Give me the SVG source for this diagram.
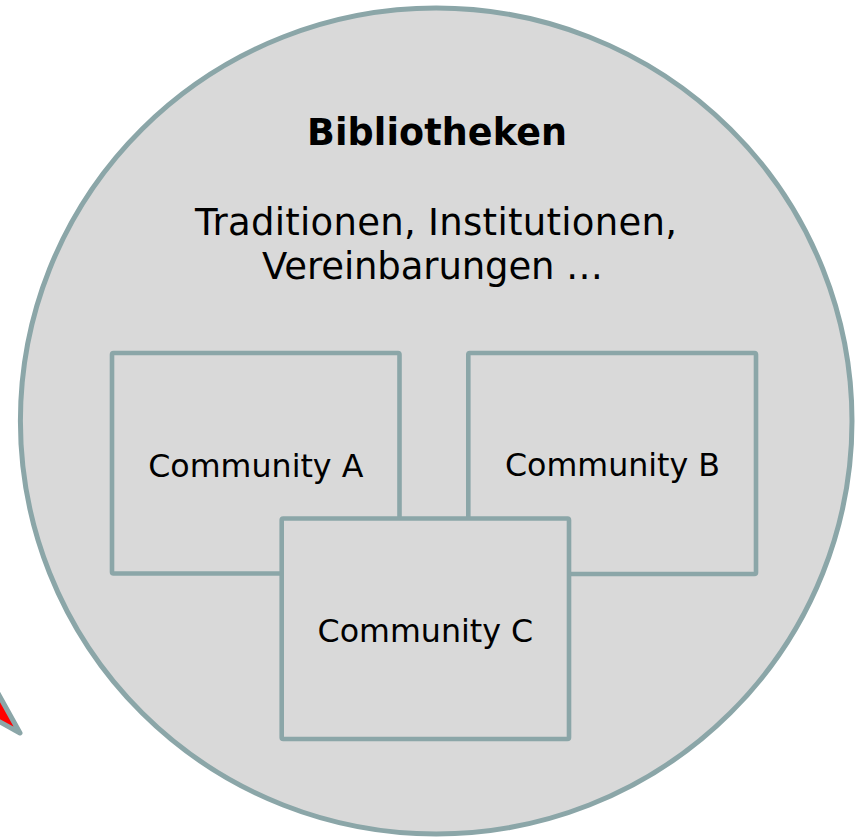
<svg xmlns="http://www.w3.org/2000/svg" width="857" height="837" viewBox="0 0 857 837">
  <style>
    .outline { stroke: #8BA6A8; stroke-width: 5; stroke-linejoin: round; }
    .box { fill: #D9D9D9; stroke: #8BA6A8; stroke-width: 4.6; stroke-linejoin: round; }
    .t { font-family: "DejaVu Sans", Verdana, sans-serif; fill: #000; text-anchor: middle; }
    .title { font-size: 36.5px; font-weight: bold; }
    .sub { font-size: 37px; }
    .lbl { font-size: 31.7px; }
  </style>
  <rect width="857" height="837" fill="#FFFFFF"/>
  <g id="pointer">
    <polygon class="outline" points="-40,625 20,733 -40,700" fill="#FF0000"/>
  </g>
  <g id="bibliotheken">
    <ellipse class="outline" cx="436.2" cy="421" rx="415.8" ry="413" fill="#D9D9D9"/>
    <text class="t title" x="437" y="145" textLength="260" lengthAdjust="spacing">Bibliotheken</text>
    <text class="t sub" x="436" y="235" textLength="482" lengthAdjust="spacing">Traditionen, Institutionen,</text>
    <text class="t sub" x="432.5" y="279" textLength="341" lengthAdjust="spacing">Vereinbarungen …</text>
  </g>
  <g id="connectors"></g>
  <g id="community-a">
    <rect class="box" x="112" y="353" width="287.5" height="220.5" rx="1.5"/>
    <text class="t lbl" x="255.8" y="476.7">Community A</text>
  </g>
  <g id="community-b">
    <rect class="box" x="468.3" y="353" width="287.7" height="221" rx="1.5"/>
    <text class="t lbl" x="612.5" y="476">Community B</text>
  </g>
  <g id="community-c">
    <rect class="box" x="281.7" y="518.5" width="287.3" height="220.5" rx="1.5"/>
    <text class="t lbl" x="425.4" y="641.7">Community C</text>
  </g>
</svg>
